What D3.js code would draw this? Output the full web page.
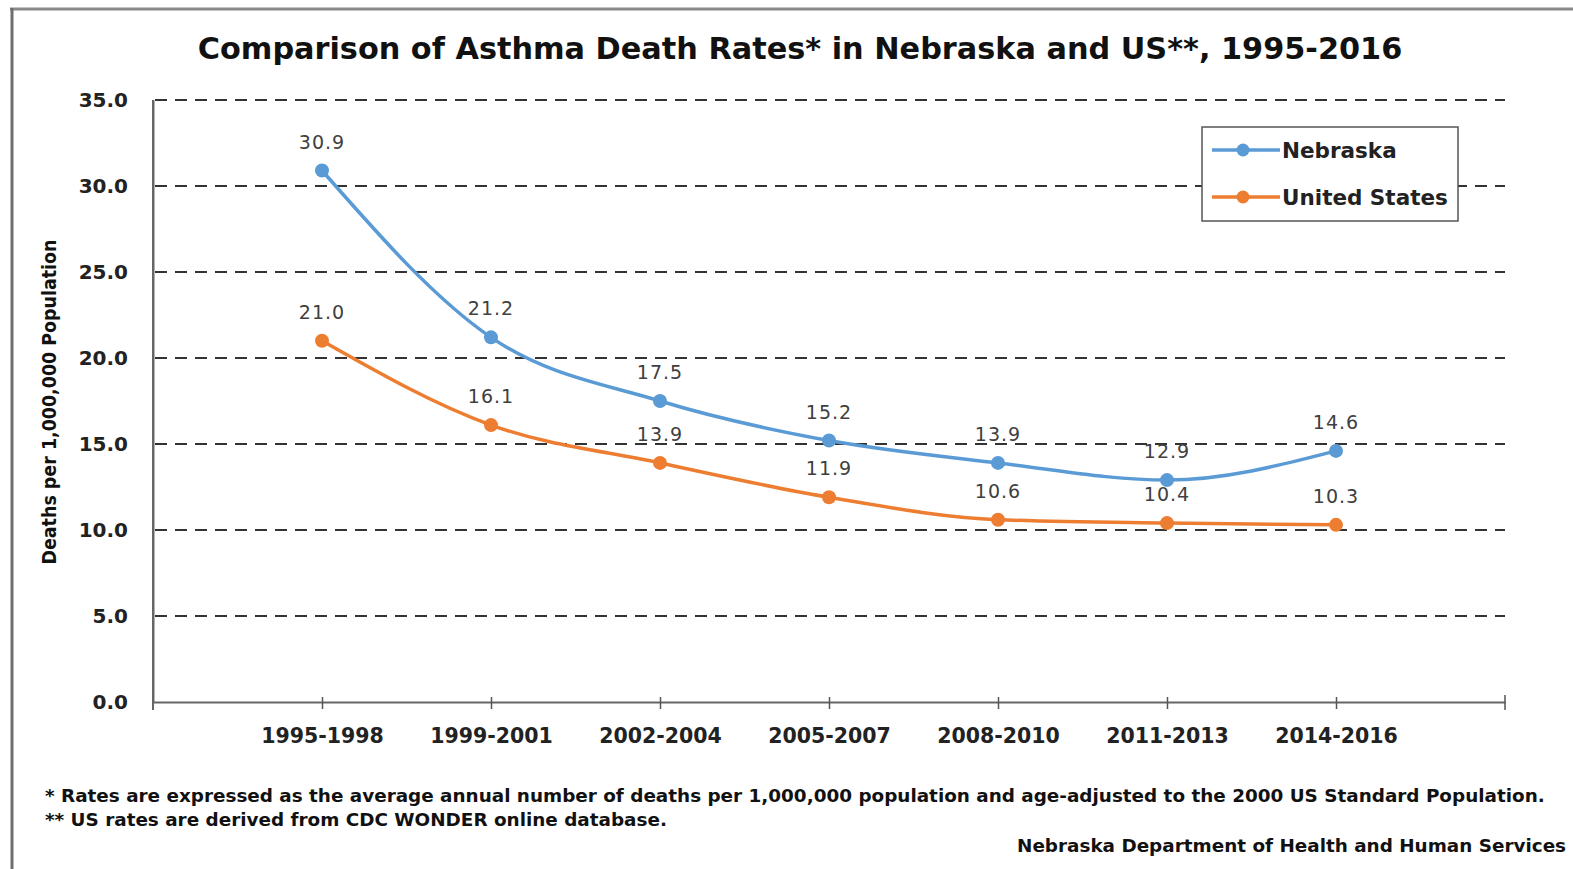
<!DOCTYPE html>
<meta charset="utf-8">
<style>
    body { margin: 0; background: #ffffff; }
    text { font-family: "DejaVu Sans", Verdana, sans-serif; }
    .grid line { stroke: #333333; stroke-width: 2px; stroke-dasharray: 12, 8; }
    .lbl { fill: #404040; font-size: 19px; letter-spacing: 1px; }
</style>
<svg width="1573" height="869"></svg>
<script src="https://cdnjs.cloudflare.com/ajax/libs/d3/7.8.5/d3.min.js"></script>
<script>

    var periods = ["1995-1998", "1999-2001", "2002-2004", "2005-2007", "2008-2010", "2011-2013", "2014-2016"];
    var nebraska = [30.9, 21.2, 17.5, 15.2, 13.9, 12.9, 14.6];
    var unitedStates = [21.0, 16.1, 13.9, 11.9, 10.6, 10.4, 10.3];
    var yTicks = [0, 5, 10, 15, 20, 25, 30, 35];

    var series = [
        {name: "Nebraska", values: nebraska, color: "#5b9bd5"},
        {name: "United States", values: unitedStates, color: "#ed7d31"}
    ];

    var svg = d3.select("svg");

    // fit a text element to a target width by scaling its font size
    function fitWidth(sel, target) {
        var w = sel.node().getComputedTextLength();
        var fs = parseFloat(sel.style("font-size"));
        sel.style("font-size", (fs * target / w) + "px");
    }

    // outer frame
    svg.append("line").attr("x1", 10).attr("x2", 1573).attr("y1", 9).attr("y2", 9)
        .attr("stroke", "#8a8a8a").attr("stroke-width", 3);
    svg.append("line").attr("x1", 12).attr("x2", 12).attr("y1", 8).attr("y2", 869)
        .attr("stroke", "#6e6e6e").attr("stroke-width", 3);

    var x = d3.scalePoint().domain(periods).range([153, 1505]).padding(1);
    var y = d3.scaleLinear().domain([0, 35]).range([702, 100]);

    // gridlines
    svg.append("g").attr("class", "grid")
        .selectAll("line")
        .data(yTicks.filter(function (d) { return d > 0; }))
        .enter().append("line")
        .attr("x1", 155).attr("x2", 1505)
        .attr("y1", function (d) { return y(d); })
        .attr("y2", function (d) { return y(d); });

    // y axis
    var yAxis = svg.append("g")
        .attr("transform", "translate(153,0)")
        .call(d3.axisLeft(y).tickValues(yTicks).tickFormat(d3.format(".1f")).tickSize(0).tickPadding(25));
    yAxis.select(".domain").attr("stroke", "#666666").attr("stroke-width", 2);
    yAxis.selectAll("text").style("font-size", "20px").style("font-weight", "bold")
        .style("font-family", "'DejaVu Sans', sans-serif").attr("fill", "#222222");

    // x axis
    var xAxis = svg.append("g")
        .attr("transform", "translate(0,702)")
        .call(d3.axisBottom(x).tickSize(7).tickPadding(19).tickSizeOuter(0));
    xAxis.select(".domain").attr("stroke", "#666666").attr("stroke-width", 2);
    xAxis.selectAll(".tick line").attr("stroke", "#555555").attr("stroke-width", 1.5).attr("y1", -5);
    xAxis.selectAll("text").style("font-size", "20.5px").style("font-weight", "bold")
        .style("font-family", "'DejaVu Sans', sans-serif").attr("fill", "#222222");
    svg.append("line").attr("x1", 1505).attr("x2", 1505).attr("y1", 695).attr("y2", 710)
        .attr("stroke", "#555555").attr("stroke-width", 1.5);
    svg.append("line").attr("x1", 153).attr("x2", 153).attr("y1", 100).attr("y2", 710)
        .attr("stroke", "#666666").attr("stroke-width", 2);

    // lines
    var line = d3.line()
        .x(function (d, i) { return x(periods[i]); })
        .y(function (d) { return y(d); })
        .curve(d3.curveMonotoneX);

    var sg = svg.append("g").selectAll("g").data(series).enter().append("g");
    sg.append("path")
        .attr("d", function (d) { return line(d.values); })
        .attr("fill", "none")
        .attr("stroke", function (d) { return d.color; })
        .attr("stroke-width", 3.5);
    sg.each(function (s) {
        d3.select(this).selectAll("circle").data(s.values).enter().append("circle")
            .attr("cx", function (d, i) { return x(periods[i]); })
            .attr("cy", function (d) { return y(d); })
            .attr("r", 7)
            .attr("fill", s.color);
        d3.select(this).selectAll("text").data(s.values).enter().append("text")
            .attr("class", "lbl")
            .attr("x", function (d, i) { return x(periods[i]); })
            .attr("y", function (d) { return y(d) - 22; })
            .attr("text-anchor", "middle")
            .text(function (d) { return d.toFixed(1); });
    });

    // legend
    var lg = svg.append("g").attr("transform", "translate(1202,127)");
    lg.append("rect").attr("width", 256).attr("height", 94)
        .attr("fill", "#ffffff").attr("stroke", "#555555").attr("stroke-width", 1.5);
    series.forEach(function (s, i) {
        var yy = 23 + i * 47;
        lg.append("line").attr("x1", 10).attr("x2", 78).attr("y1", yy).attr("y2", yy)
            .attr("stroke", s.color).attr("stroke-width", 3.5);
        lg.append("circle").attr("cx", 41).attr("cy", yy).attr("r", 6.5).attr("fill", s.color);
        lg.append("text").attr("x", 80).attr("y", yy + 8)
            .style("font-size", "21.5px").style("font-weight", "bold").attr("fill", "#222222")
            .text(s.name);
    });

    // title
    var title = svg.append("text").attr("x", 800).attr("y", 59).attr("text-anchor", "middle")
        .style("font-size", "27px").style("font-weight", "bold").attr("fill", "#111111")
        .text("Comparison of Asthma Death Rates* in Nebraska and US**, 1995-2016");
    fitWidth(title, 1205);

    // y axis title
    var yt = svg.append("text")
        .attr("transform", "translate(56,402) rotate(-90)")
        .attr("text-anchor", "middle")
        .style("font-size", "20px").style("font-weight", "bold").attr("fill", "#111111")
        .text("Deaths per 1,000,000 Population");
    yt.attr("textLength", 325).attr("lengthAdjust", "spacingAndGlyphs");

    // footnotes
    var f1 = svg.append("text").attr("x", 45).attr("y", 802)
        .style("font-size", "16px").style("font-weight", "bold").attr("fill", "#111111")
        .text("* Rates are expressed as the average annual number of deaths per 1,000,000 population and age-adjusted to the 2000 US Standard Population.");
    fitWidth(f1, 1501);
    var f2 = svg.append("text").attr("x", 45).attr("y", 826)
        .style("font-size", "16px").style("font-weight", "bold").attr("fill", "#111111")
        .text("** US rates are derived from CDC WONDER online database.");
    f2.style("font-size", f1.style("font-size"));
    var src = svg.append("text").attr("x", 1017).attr("y", 852)
        .style("font-size", "16px").style("font-weight", "bold").attr("fill", "#111111")
        .text("Nebraska Department of Health and Human Services");
    src.style("font-size", f1.style("font-size"));

</script>
